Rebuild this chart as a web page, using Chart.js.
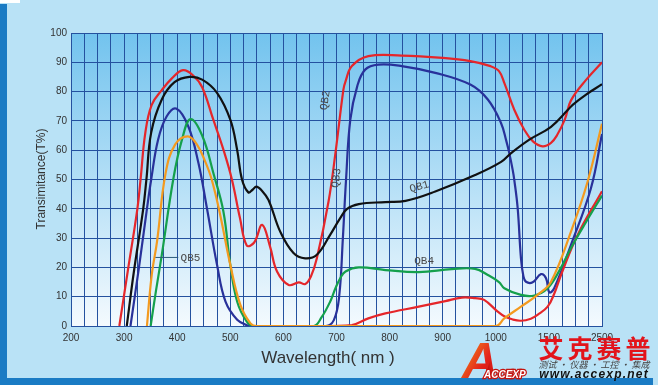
<!DOCTYPE html>
<html>
<head>
<meta charset="utf-8">
<script src="https://cdn.jsdelivr.net/npm/chart.js@4.4.1/dist/chart.umd.min.js"></script>
<style>
  html, body { margin: 0; padding: 0; background: #b9e2f6; overflow: hidden; }
  canvas { display: block; }
</style>
</head>
<body>
<canvas id="chart" width="658" height="385"></canvas>
<script>
// labels of the broken wavelength axis, one per major division
const xTickLabels = ['200', '300', '400', '500', '600', '700', '800', '900', '1000', '1500', '2500'];

// QB1 (black)
const qb1Wl = [305, 318, 336, 342, 351, 371, 395, 423, 447, 475, 500, 513, 522, 534, 542, 549, 558, 572, 594, 619, 641, 663, 688, 707, 720, 742, 792, 830, 886, 961, 1050, 1144, 1316, 1540, 1854, 1948, 2200, 2500];
const qb1T  = [0, 18, 40, 50, 66, 77.3, 83.2, 85, 84.1, 79.6, 70.4, 60, 50, 45.6, 46.5, 47.6, 46.5, 43, 32.2, 24.9, 23.1, 24.3, 31.1, 36.8, 40, 41.6, 42.3, 42.7, 45.9, 51.5, 56, 59, 63.6, 68, 73.7, 75.5, 79, 82.5];

// QB2 (red, upper)
const qb2Wl = [291, 308, 325, 331, 340, 352, 371, 390, 411, 430, 447, 468, 487, 503, 518, 531, 545, 560, 575, 588, 610, 629, 641, 652, 663, 685, 698, 713, 717, 729, 760, 823, 900, 952, 990, 1030, 1080, 1174, 1268, 1350, 1441, 1540, 1650, 1800, 1916, 2200, 2500];
const qb2T  = [0, 20, 40, 50, 66, 75.5, 80.5, 84.5, 87.3, 85.5, 81.5, 70.4, 60.2, 50, 37, 27.5, 28.5, 34.5, 27, 18.6, 14, 14.9, 14.3, 17, 23.1, 42.5, 59, 80.7, 83.5, 88.7, 92.1, 92.3, 91.5, 90.4, 88.7, 87, 83, 73.8, 67, 63, 61.3, 62.5, 65, 70.5, 77, 84, 90];

// QB3 (navy)
const qb3Wl = [312, 328, 343, 351, 364, 380, 398, 421, 440, 456, 475, 491, 513, 531, 545, 680, 695, 705, 712, 718, 726, 739, 754, 779, 823, 886, 952, 985, 1049, 1100, 1127, 1159, 1174, 1206, 1237, 1260, 1284, 1347, 1425, 1473, 1508, 1600, 1916, 2293, 2500];
const qb3T  = [0, 20, 40, 50, 63.6, 71.5, 74.2, 68.1, 55.6, 40.2, 20.9, 8.3, 2.1, 0.3, 0, 0, 2, 10, 30, 50, 70.4, 81.8, 87.5, 89.2, 88.7, 86.4, 82.4, 77.3, 69.3, 63, 59, 53.3, 49.9, 40.2, 23.1, 17, 15.1, 14.9, 17.7, 16.3, 11.5, 12.9, 27.7, 47.1, 65.5];

// QB4 (green)
const qb4Wl = [350, 360, 371, 393, 409, 425, 447, 469, 487, 500, 513, 531, 544, 657, 672, 688, 698, 707, 717, 742, 792, 855, 917, 961, 985, 1030, 1080, 1237, 1363, 1488, 1700, 1916, 2200, 2500];
const qb4T  = [0, 12, 24.3, 50.5, 63.6, 70.6, 65, 51.6, 39.1, 20.9, 8.3, 1.5, 0, 0, 3, 8.3, 12.9, 16.3, 18.6, 20, 19.1, 18.4, 19.4, 19.5, 17.4, 15, 12.9, 10.6, 10.4, 12.9, 19, 26.6, 35.5, 44.5];

// QB5 (orange)
const qb5Wl = [343, 352, 362, 378, 396, 420, 437, 453, 465, 481, 500, 519, 538, 550, 1000, 1080, 1237, 1393, 1540, 1916, 2230, 2500];
const qb5T  = [0, 17.4, 28.8, 52, 61.9, 64.7, 62, 56, 50, 37.9, 20.9, 7.2, 0.9, 0, 0, 2.6, 6.6, 10.6, 15.1, 32.2, 49.3, 69];

// lower red curve
const redLowWl = [690, 729, 760, 792, 855, 905, 936, 961, 978, 1018, 1080, 1160, 1237, 1330, 1393, 1488, 1600, 1728, 2042, 2500];
const redLowT  = [0, 0.3, 2.6, 4.3, 6.6, 8.5, 9.7, 9.5, 8.9, 4.9, 3.3, 2.2, 1.8, 2.5, 3.8, 6.6, 11, 17.4, 31.1, 46];

// the axis is broken: 200-1000 in steps of 100, then 1000-1500 and 1500-2500 get one division each
function axisPos(wl) {
    if (wl <= 1000) return (wl - 200) / 100;
    if (wl <= 1500) return 8 + (wl - 1000) / 500;
    return 9 + (wl - 1500) / 1000;
}

function toPoints(wl, t) {
    return wl.map((w, i) => ({ x: axisPos(w), y: t[i] }));
}

function line(data, color) {
    return {
        data,
        borderColor: color,
        borderWidth: 2.2,
        pointRadius: 0,
        fill: false,
        tension: 0.4
    };
}

const gridColor = '#24519f';
const textColor = '#333333';

// background, frame strips and plot gradient
const backdrop = {
    id: 'backdrop',
    beforeDraw(chart) {
        const { ctx, chartArea: a, width, height } = chart;
        ctx.save();
        ctx.fillStyle = '#b9e2f6';
        ctx.fillRect(0, 0, width, height);
        ctx.fillStyle = '#1a7bc4';
        ctx.fillRect(0, 4, 7, height - 4);
        ctx.fillRect(0, 378, 653, 7);
        ctx.fillStyle = '#ffffff';
        ctx.fillRect(0, 0, 20, 3);
        const g = ctx.createLinearGradient(0, a.top, 0, a.bottom);
        g.addColorStop(0, '#72c3ee');
        g.addColorStop(1, '#f4fafe');
        ctx.fillStyle = g;
        ctx.fillRect(a.left, a.top, a.right - a.left, a.bottom - a.top);
        ctx.restore();
    }
};

// axis titles, curve names and the logo
const notes = {
    id: 'notes',
    afterDraw(chart) {
        const { ctx } = chart;
        const xs = chart.scales.x, ys = chart.scales.y;
        const px = wl => xs.getPixelForValue(axisPos(wl));
        const py = t => ys.getPixelForValue(t);
        ctx.save();

        // axis titles
        ctx.fillStyle = textColor;
        ctx.textAlign = 'center';
        ctx.textBaseline = 'middle';
        ctx.font = '12px "Liberation Sans", Arial, sans-serif';
        ctx.save();
        ctx.translate(42, 179);
        ctx.rotate(-Math.PI / 2);
        ctx.fillText('Transimitance(T%)', 0, 0);
        ctx.restore();
        ctx.font = '17px "Liberation Sans", Arial, sans-serif';
        ctx.fillText('Wavelength( nm )', 328, 358);

        // curve names
        ctx.fillStyle = '#4a4a4a';
        ctx.font = '11px "Liberation Mono", "DejaVu Sans Mono", monospace';
        const name = (text, wl, t, deg) => {
            ctx.save();
            ctx.translate(px(wl), py(t));
            ctx.rotate(deg * Math.PI / 180);
            ctx.fillText(text, 0, 0);
            ctx.restore();
        };
        name('QB1', 856, 47.5, -15);
        name('QB2', 679, 77, -82);
        name('QB3', 700, 50.5, -82);
        name('QB4', 865, 22.2, 0);
        name('QB5', 425, 23.2, 0);
        ctx.strokeStyle = '#2b5a7a';
        ctx.lineWidth = 1;
        ctx.beginPath();
        ctx.moveTo(px(359), py(23.4));
        ctx.lineTo(px(402), py(23.4));
        ctx.stroke();

        // logo
        const ga = ctx.createLinearGradient(462, 340, 520, 378);
        ga.addColorStop(0, '#f59a1c');
        ga.addColorStop(0.45, '#e3221a');
        ga.addColorStop(1, '#a8100d');
        ctx.fillStyle = ga;
        ctx.font = 'italic bold 50px "Liberation Sans", Arial, sans-serif';
        ctx.textAlign = 'left';
        ctx.textBaseline = 'alphabetic';
        ctx.fillText('A', 462, 378);
        ctx.font = 'italic bold 10px "Liberation Sans", Arial, sans-serif';
        ctx.lineWidth = 2.5;
        ctx.strokeStyle = '#c4140f';
        ctx.strokeText('ACCEXP', 484, 378);
        ctx.fillStyle = '#ffffff';
        ctx.fillText('ACCEXP', 484, 378);

        ctx.fillStyle = '#e2141b';
        ctx.font = 'bold 25px "Noto Sans CJK SC", sans-serif';
        ctx.textAlign = 'center';
        ctx.textBaseline = 'middle';
        ['艾', '克', '赛', '普'].forEach((ch, i) => ctx.fillText(ch, 551 + i * 29, 348));

        ctx.fillStyle = '#444444';
        ctx.font = 'italic 9px "Noto Sans CJK SC", sans-serif';
        ctx.fillText('测试 · 仪器 · 工控 · 集成', 594, 365);

        ctx.fillStyle = '#111111';
        ctx.font = 'italic bold 12px "Liberation Sans", Arial, sans-serif';
        ctx.letterSpacing = '1.2px';
        ctx.textBaseline = 'alphabetic';
        ctx.fillText('www.accexp.net', 594, 378);
        ctx.restore();
    }
};

new Chart(document.getElementById('chart'), {
    type: 'line',
    data: {
        datasets: [
            line(toPoints(qb5Wl, qb5T), '#f39a1f'),
            line(toPoints(qb4Wl, qb4T), '#14a04c'),
            line(toPoints(redLowWl, redLowT), '#e5262a'),
            line(toPoints(qb1Wl, qb1T), '#111111'),
            line(toPoints(qb3Wl, qb3T), '#28319a'),
            line(toPoints(qb2Wl, qb2T), '#e5262a')
        ]
    },
    options: {
        responsive: false,
        animation: false,
        events: [],
        layout: { padding: { left: 0, right: 56, top: 33, bottom: 0 } },
        plugins: { legend: { display: false }, tooltip: { enabled: false } },
        scales: {
            x: {
                type: 'linear',
                min: 0,
                max: 10,
                afterFit: s => { s.height = 59; },
                grid: { color: gridColor, lineWidth: 1, drawTicks: false },
                border: { color: gridColor, width: 1 },
                ticks: {
                    stepSize: 0.25,
                    autoSkip: false,
                    maxRotation: 0,
                    padding: 6,
                    color: textColor,
                    font: { family: '"Liberation Sans", Arial, sans-serif', size: 10 },
                    callback: v => {
                        const r = Math.round(v);
                        return Math.abs(v - r) < 1e-6 ? xTickLabels[r] : '';
                    }
                }
            },
            y: {
                min: 0,
                max: 100,
                afterFit: s => { s.width = 71; },
                grid: { color: gridColor, lineWidth: 1, drawTicks: false },
                border: { color: gridColor, width: 1 },
                ticks: {
                    stepSize: 10,
                    padding: 4,
                    color: textColor,
                    font: { family: '"Liberation Sans", Arial, sans-serif', size: 10 }
                }
            }
        }
    },
    plugins: [backdrop, notes]
});
</script>
</body>
</html>
